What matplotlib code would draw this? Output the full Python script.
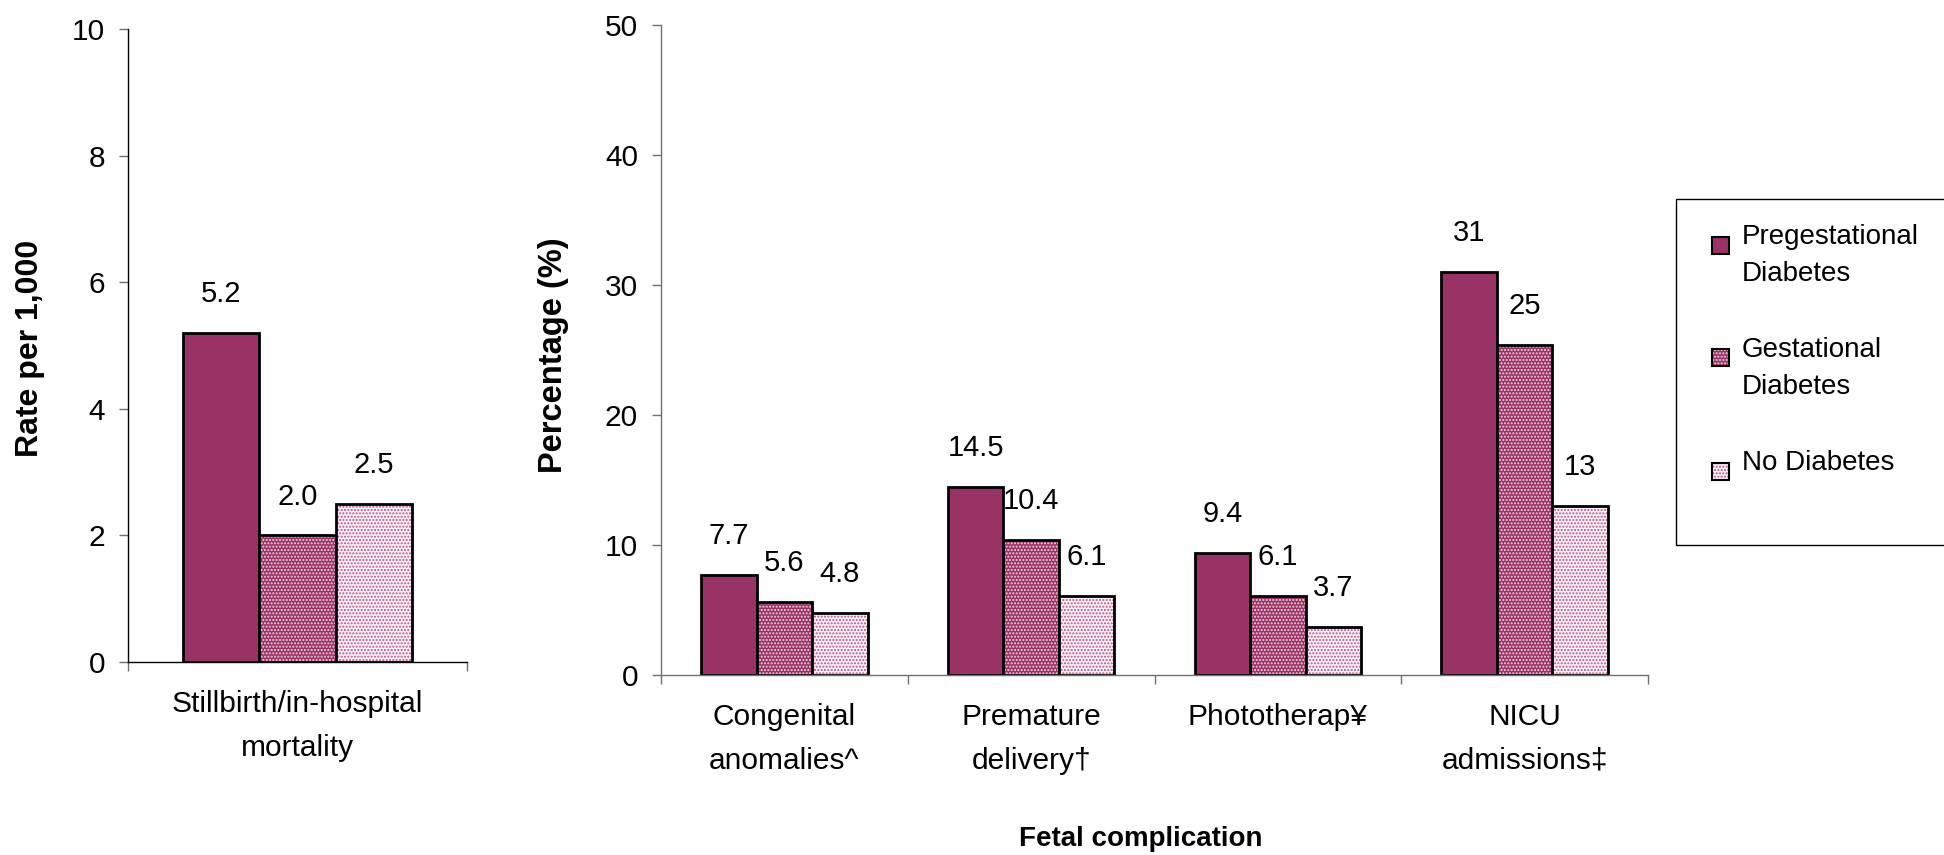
import numpy as np
import matplotlib
matplotlib.use("Agg")
import matplotlib.pyplot as plt
from matplotlib.patches import Rectangle

plt.rcParams["font.family"] = ["Liberation Sans", "DejaVu Sans"]
plt.rcParams["hatch.linewidth"] = 1.0

### Data ###
groups = ["Pregestational\nDiabetes", "Gestational\nDiabetes", "No Diabetes"]

# Stillbirth / in-hospital mortality, rate per 1,000
mortality_cats = ["Stillbirth/in-hospital\nmortality"]
mortality_preg = [5.2]
mortality_gest = [2.0]
mortality_none = [2.5]
mortality_fmt = ["{:.1f}"]

# Fetal complications, percentage
complication_cats = ["Congenital\nanomalies^", "Premature\ndelivery\u2020",
                     "Phototherap\u00a5", "NICU\nadmissions\u2021"]
complication_preg = [7.7, 14.5, 9.4, 31.0]
complication_gest = [5.6, 10.4, 6.1, 25.4]
complication_none = [4.8, 6.1, 3.7, 13.0]
complication_fmt = ["{:.1f}", "{:.1f}", "{:.1f}", "{:.0f}"]

### Styles ###
W, H = 1944, 855
BAR_W = 0.225
HATCH = "....."
FONT = 20
VALUE_FONT = 21
TICK_FONT = 21.5
STYLES = [
    {"face": "#993366", "dots": None},
    {"face": "#993366", "dots": "#f2d2e2"},
    {"face": "#fdf2f7", "dots": "#b5538a"},
]


def fx(px):
    return px / W


def fy(py):
    return 1 - py / H


def draw_series(ax, values, fmts, offset, style):
    x = np.arange(len(values)) + offset
    if style["dots"] is None:
        ax.bar(x, values, BAR_W, color=style["face"], linewidth=0)
    else:
        ax.bar(x, values, BAR_W, color=style["face"], edgecolor=style["dots"],
               hatch=HATCH, linewidth=0)
    ax.bar(x, values, BAR_W, fill=False, edgecolor="black", linewidth=2)
    for xi, v, f in zip(x, values, fmts):
        ax.annotate(f.format(v), (xi, v), xytext=(0, 28), textcoords="offset points",
                    ha="center", va="center", fontsize=VALUE_FONT)


def style_axes(ax, cats, ymax, ystep, spine_color):
    n = len(cats)
    ax.set_xlim(-0.5, n - 0.5)
    ax.set_ylim(0, ymax)
    ax.set_yticks(np.arange(0, ymax + ystep, ystep))
    ax.set_xticks(np.arange(n))
    ax.set_xticklabels(cats)
    ax.set_xticks(np.arange(n + 1) - 0.5, minor=True)
    for s in ["top", "right"]:
        ax.spines[s].set_visible(False)
    for s in ["left", "bottom"]:
        ax.spines[s].set_color(spine_color)
        ax.spines[s].set_linewidth(1.0)
    ax.tick_params(axis="y", direction="out", length=6.5, width=1, color="#707070",
                   pad=10, labelsize=TICK_FONT)
    ax.tick_params(axis="x", which="major", length=0, pad=20, labelsize=TICK_FONT)
    ax.tick_params(axis="x", which="minor", direction="out", length=6.5, width=1,
                   color="#707070")
    for lbl in ax.get_xticklabels():
        lbl.set_linespacing(1.72)
        lbl.set_verticalalignment("top")


fig = plt.figure(figsize=(W / 100, H / 100), dpi=100)

# left panel: mortality
ax1 = fig.add_axes([fx(128), fy(662), fx(467 - 128), (662 - 29) / H])
series1 = [mortality_preg, mortality_gest, mortality_none]
for i, (vals, st) in enumerate(zip(series1, STYLES)):
    draw_series(ax1, vals, mortality_fmt, (i - 1) * BAR_W, st)
style_axes(ax1, mortality_cats, 10, 2, "black")

# right panel: complications
ax2 = fig.add_axes([fx(661), fy(675), fx(1648 - 661), (675 - 25) / H])
series2 = [complication_preg, complication_gest, complication_none]
for i, (vals, st) in enumerate(zip(series2, STYLES)):
    draw_series(ax2, vals, complication_fmt, (i - 1) * BAR_W, st)
style_axes(ax2, complication_cats, 50, 10, "#707070")

fig.text(fx(30), fy(348), "Rate per 1,000", rotation=90, ha="center", va="center",
         fontsize=23, fontweight="bold")
fig.text(fx(553), fy(355), "Percentage (%)", rotation=90, ha="center", va="center",
         fontsize=23.5, fontweight="bold")
fig.text(fx(1141), fy(839), "Fetal complication", ha="center", va="center",
         fontsize=FONT, fontweight="bold")

# legend box, runs off the right edge
fig.add_artist(Rectangle((fx(1676), fy(545)), fx(1960 - 1676), (545 - 199) / H,
                         fill=False, edgecolor="black", linewidth=1,
                         transform=fig.transFigure))
sq = 17
for i, (name, st) in enumerate(zip(groups, STYLES)):
    top = 224 + i * 113
    my = top + 21
    kw = {"hatch": HATCH, "edgecolor": st["dots"]} if st["dots"] else {}
    fig.add_artist(Rectangle((fx(1720 - sq / 2), fy(my + sq / 2)), fx(sq), sq / H,
                             facecolor=st["face"], linewidth=0,
                             transform=fig.transFigure, **kw))
    fig.add_artist(Rectangle((fx(1720 - sq / 2), fy(my + sq / 2)), fx(sq), sq / H,
                             fill=False, edgecolor="black", linewidth=1.5,
                             transform=fig.transFigure))
    fig.text(fx(1742), fy(top), name, ha="left", va="top", fontsize=FONT,
             linespacing=1.54)

fig.savefig("out.png", dpi=100)
